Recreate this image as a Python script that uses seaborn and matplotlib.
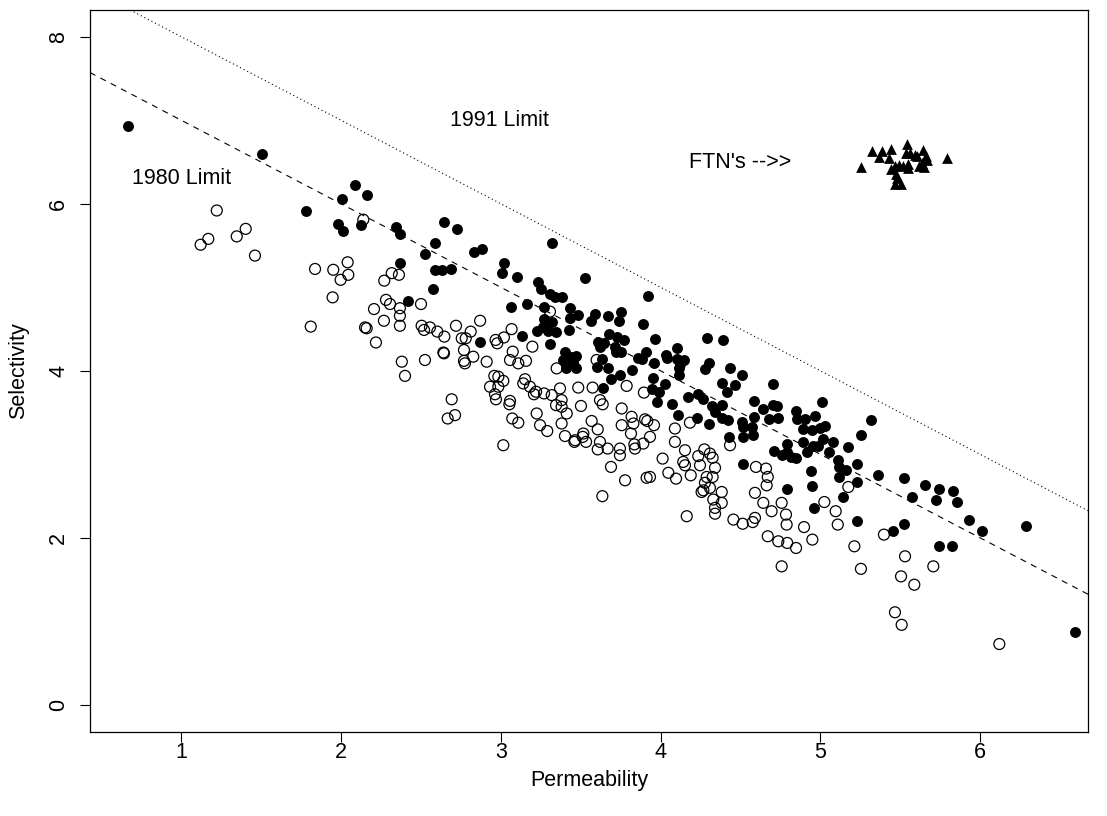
import numpy as np
import pandas as pd
import matplotlib
matplotlib.use("Agg")
import matplotlib.pyplot as plt
import seaborn as sns

# ---- data ----
filled_x = [0.665, 1.507, 1.780, 2.087, 2.160, 2.004, 1.979, 2.014, 2.125, 2.342, 2.37, 2.37,
            2.644, 2.723, 2.588, 2.525, 2.588, 2.633, 2.686, 2.573, 2.421, 2.832, 2.880, 2.870,
            3.322, 3.021, 3.005, 3.099, 3.234, 3.251, 3.307, 3.339, 3.063, 3.161, 3.272, 3.270,
            3.322, 3.261, 3.224, 3.297, 3.345, 3.130, 3.307,
            3.526, 3.385, 3.432, 3.484, 3.432, 3.428, 3.589, 3.562, 3.672, 3.752, 3.741, 3.676,
            3.728, 3.772, 3.609, 3.647, 3.620, 3.714, 3.720, 3.752, 3.402, 3.448, 3.470, 3.390,
            3.453, 3.407, 3.470, 3.603, 3.631, 3.672, 3.818, 3.860, 3.744, 3.689, 3.637,
            3.923, 3.891, 3.964, 4.292, 4.39, 3.908, 4.033, 4.041, 4.100, 4.100, 4.121, 4.148,
            4.116, 3.958, 3.881, 4.304, 4.277, 3.950, 4.116, 4.027, 3.944, 3.991, 3.979, 4.069,
            4.173, 4.235, 4.267, 4.319, 4.340, 4.107, 4.229, 4.302,
            4.434, 4.507, 4.382, 4.465, 4.417, 4.701, 4.586, 4.642, 4.705, 4.730, 4.680, 4.736,
            4.586, 4.382, 4.382, 4.423, 4.507, 4.517, 4.569, 4.580, 4.513, 4.427, 4.847, 4.855,
            4.788, 4.709, 4.757, 4.788, 4.813, 4.847, 4.513, 4.788,
            5.008, 4.903, 4.966, 4.892, 4.945, 4.997, 5.028, 5.018, 4.892, 4.951, 4.917, 4.986,
            5.053, 5.080, 5.174, 5.253, 5.316, 5.111, 5.117, 5.160, 5.117, 5.226, 5.226, 5.362,
            4.939, 4.945, 5.139, 4.959, 5.226,
            5.522, 5.654, 5.743, 5.827, 5.575, 5.723, 5.852, 5.522, 5.456, 5.743, 5.825,
            5.929, 6.013, 6.286, 6.59]
filled_y = [6.93, 6.60, 5.91, 6.22, 6.10, 6.06, 5.76, 5.68, 5.75, 5.72, 5.64, 5.29,
            5.78, 5.70, 5.53, 5.40, 5.21, 5.21, 5.22, 4.98, 4.84, 5.42, 5.46, 4.34,
            5.53, 5.29, 5.17, 5.12, 5.06, 4.98, 4.92, 4.88, 4.77, 4.80, 4.76, 4.62,
            4.59, 4.53, 4.48, 4.48, 4.47, 4.42, 4.32,
            5.11, 4.88, 4.75, 4.67, 4.63, 4.49, 4.68, 4.60, 4.66, 4.71, 4.60, 4.44,
            4.41, 4.37, 4.34, 4.33, 4.28, 4.28, 4.22, 4.23, 4.22, 4.17, 4.18, 4.13,
            4.11, 4.04, 4.04, 4.05, 4.14, 4.04, 4.01, 4.15, 3.95, 3.90, 3.80,
            4.90, 4.56, 4.38, 4.39, 4.37, 4.22, 4.19, 4.15, 4.27, 4.14, 4.08, 4.13,
            4.04, 4.10, 4.14, 4.09, 4.02, 3.92, 3.95, 3.84, 3.78, 3.75, 3.63, 3.60,
            3.69, 3.72, 3.66, 3.58, 3.51, 3.47, 3.43, 3.37,
            4.04, 3.95, 3.85, 3.83, 3.75, 3.84, 3.64, 3.54, 3.59, 3.58, 3.42, 3.43,
            3.45, 3.59, 3.43, 3.41, 3.39, 3.33, 3.33, 3.23, 3.21, 3.21, 3.52, 3.42,
            3.13, 3.04, 2.99, 3.03, 2.97, 2.96, 2.89, 2.58,
            3.63, 3.42, 3.46, 3.30, 3.29, 3.32, 3.34, 3.19, 3.15, 3.10, 3.03, 3.10,
            3.03, 3.15, 3.09, 3.23, 3.41, 2.93, 2.85, 2.81, 2.73, 2.88, 2.67, 2.75,
            2.80, 2.62, 2.49, 2.36, 2.20,
            2.72, 2.63, 2.59, 2.56, 2.49, 2.46, 2.43, 2.17, 2.08, 1.90, 1.90,
            2.22, 2.08, 2.14, 0.87]

open_x = [1.222, 1.169, 1.121, 1.347, 1.403, 1.461, 2.139, 1.837, 1.951, 2.041, 2.045, 1.997,
          1.947, 1.810, 2.150, 2.160, 2.218, 2.206, 2.270, 2.317, 2.281, 2.306, 2.268, 2.362,
          2.368, 2.368, 2.368, 2.38, 2.40,
          2.500, 2.504, 2.519, 2.556, 2.602, 2.646, 2.719, 2.811, 2.755, 2.780, 2.87, 2.640,
          2.644, 2.769, 2.769, 2.775, 2.827, 2.525, 2.692, 2.713, 2.667,
          3.307, 3.067, 3.019, 2.967, 2.977, 3.197, 3.074, 2.911, 3.057, 3.109, 3.157, 3.349,
          2.959, 2.984, 3.015, 2.932, 2.984, 2.963, 2.969, 3.151, 3.140, 3.182, 3.207, 3.220,
          3.270, 3.318, 3.345, 3.057, 3.053, 3.224, 3.245, 3.290, 3.071, 3.109, 3.015, 3.38,
          3.599, 3.370, 3.484, 3.574, 3.787, 3.380, 3.380, 3.412, 3.501, 3.620, 3.637, 3.756,
          3.568, 3.606, 3.818, 3.829, 3.756, 3.814, 3.401, 3.464, 3.46, 3.516, 3.512, 3.533,
          3.620, 3.606, 3.668, 3.745, 3.745, 3.835, 3.839, 3.689, 3.777, 3.635,
          3.895, 3.902, 3.916, 3.958, 3.933, 3.891, 4.089, 4.183, 4.089, 4.152, 4.273, 4.308,
          4.235, 4.325, 4.012, 4.141, 4.152, 4.246, 4.340, 4.048, 4.096, 4.188, 4.288, 4.325,
          3.912, 3.933, 4.277, 4.267, 4.256, 4.308, 4.329, 4.340, 4.340, 4.163,
          4.434, 4.596, 4.659, 4.670, 4.663, 4.590, 4.382, 4.382, 4.642, 4.694, 4.757, 4.784,
          4.788, 4.590, 4.576, 4.455, 4.513, 4.670, 4.736, 4.792, 4.847, 4.757,
          5.174, 5.024, 5.095, 5.108, 4.897, 4.949, 5.212, 5.253,
          5.397, 5.529, 5.706, 5.504, 5.587, 5.466, 5.508, 6.119]
open_y = [5.92, 5.58, 5.51, 5.61, 5.70, 5.38, 5.81, 5.22, 5.21, 5.30, 5.15, 5.09,
          4.88, 4.53, 4.52, 4.51, 4.34, 4.74, 5.08, 5.17, 4.85, 4.80, 4.60, 5.15,
          4.75, 4.66, 4.54, 4.11, 3.94,
          4.80, 4.54, 4.49, 4.52, 4.47, 4.41, 4.54, 4.47, 4.39, 4.39, 4.60, 4.22,
          4.21, 4.25, 4.12, 4.09, 4.17, 4.13, 3.66, 3.47, 3.43,
          4.71, 4.50, 4.40, 4.37, 4.33, 4.29, 4.23, 4.11, 4.13, 4.09, 4.12, 4.03,
          3.94, 3.93, 3.88, 3.81, 3.81, 3.72, 3.66, 3.90, 3.85, 3.81, 3.72, 3.75,
          3.73, 3.71, 3.59, 3.64, 3.60, 3.49, 3.35, 3.28, 3.43, 3.38, 3.11, 3.37,
          4.13, 3.79, 3.80, 3.80, 3.82, 3.65, 3.57, 3.49, 3.58, 3.65, 3.60, 3.55,
          3.40, 3.30, 3.45, 3.37, 3.35, 3.25, 3.22, 3.17, 3.15, 3.25, 3.21, 3.15,
          3.15, 3.06, 3.07, 3.07, 2.99, 3.12, 3.07, 2.85, 2.69, 2.50,
          3.74, 3.42, 3.40, 3.35, 3.21, 3.13, 3.31, 3.38, 3.15, 3.05, 3.06, 3.01,
          2.98, 2.96, 2.95, 2.91, 2.87, 2.87, 2.84, 2.78, 2.71, 2.75, 2.73, 2.73,
          2.72, 2.73, 2.66, 2.57, 2.55, 2.60, 2.46, 2.36, 2.29, 2.26,
          3.11, 2.85, 2.83, 2.73, 2.63, 2.54, 2.55, 2.42, 2.42, 2.32, 2.42, 2.28,
          2.16, 2.24, 2.19, 2.22, 2.17, 2.02, 1.96, 1.94, 1.88, 1.66,
          2.61, 2.43, 2.32, 2.16, 2.13, 1.98, 1.90, 1.63,
          2.04, 1.78, 1.66, 1.54, 1.44, 1.11, 0.96, 0.73]

ftn_x = [5.253, 5.324, 5.383, 5.366, 5.439, 5.431, 5.543, 5.535, 5.560, 5.591, 5.602, 5.640,
         5.660, 5.668, 5.633, 5.618, 5.648, 5.439, 5.466, 5.491, 5.518, 5.545, 5.549, 5.470,
         5.477, 5.466, 5.501, 5.790]
ftn_y = [6.44, 6.63, 6.63, 6.56, 6.66, 6.55, 6.71, 6.61, 6.61, 6.59, 6.57, 6.65,
         6.57, 6.53, 6.49, 6.45, 6.44, 6.42, 6.45, 6.46, 6.45, 6.43, 6.48, 6.36,
         6.31, 6.24, 6.24, 6.55]

limit_1980 = (8.0, -1.0)   # intercept, slope
limit_1991 = (9.0, -1.0)

x_ticks = [1, 2, 3, 4, 5, 6]
y_ticks = [0, 2, 4, 6, 8]
labels = {"1980": "1980 Limit", "1991": "1991 Limit", "ftn": "FTN's -->>"}

# ---- plotting ----
sns.set_style("ticks")
plt.rcParams["font.family"] = ["Liberation Sans", "DejaVu Sans"]
plt.rcParams["text.color"] = "black"
plt.rcParams["axes.labelcolor"] = "black"
plt.rcParams["xtick.color"] = "black"
plt.rcParams["ytick.color"] = "black"
FS = 15.5

fig = plt.figure(figsize=(11.07, 8.16), dpi=100)
ax = fig.add_axes([90 / 1107, 1 - 732 / 816, 998 / 1107, 722 / 816])

df_f = pd.DataFrame({"x": filled_x, "y": filled_y})
df_o = pd.DataFrame({"x": open_x, "y": open_y})
df_t = pd.DataFrame({"x": ftn_x, "y": ftn_y})

sns.scatterplot(data=df_o, x="x", y="y", ax=ax, marker="o", s=62, color="black",
                linewidth=0.9, zorder=3)
coll = ax.collections[-1]
coll.set_facecolor("none")
coll.set_edgecolor("black")
sns.scatterplot(data=df_f, x="x", y="y", ax=ax, marker="o", s=62, color="black",
                linewidth=0, zorder=4)
sns.scatterplot(data=df_t, x="x", y="y", ax=ax, marker="^", s=60, color="black",
                linewidth=0, zorder=4)

ax.axline((0, limit_1980[0]), slope=limit_1980[1], color="black", lw=0.8,
          linestyle=(0, (5.5, 5.0)), zorder=2)
ax.axline((0, limit_1991[0]), slope=limit_1991[1], color="black", lw=0.8,
          linestyle=(0, (1.0, 2.6)), zorder=2)

ax.text(1.0, 6.3, labels["1980"], fontsize=FS, ha="center", va="center", color="black")
ax.text(2.99, 7.0, labels["1991"], fontsize=FS, ha="center", va="center", color="black")
ax.text(4.5, 6.5, labels["ftn"], fontsize=FS, ha="center", va="center", color="black")

ax.set_xlim(0.4287, 6.674)
ax.set_ylim(-0.323, 8.32)
ax.set_xticks(x_ticks)
ax.set_yticks(y_ticks)
ax.set_xticklabels([str(v) for v in x_ticks], fontsize=FS)
ax.set_yticklabels([str(v) for v in y_ticks], fontsize=FS, rotation=90, va="center")
ax.tick_params(axis="both", length=7, width=0.8, color="black", labelcolor="black",
               direction="out")
ax.tick_params(axis="x", pad=0.5)
ax.tick_params(axis="y", pad=8)
ax.set_xlabel("Permeability", fontsize=FS, labelpad=5, color="black")
ax.set_ylabel("Selectivity", fontsize=FS, labelpad=14, color="black")
for sp in ax.spines.values():
    sp.set_visible(True)
    sp.set_linewidth(0.9)
    sp.set_color("black")

fig.savefig("out.png", dpi=100)
